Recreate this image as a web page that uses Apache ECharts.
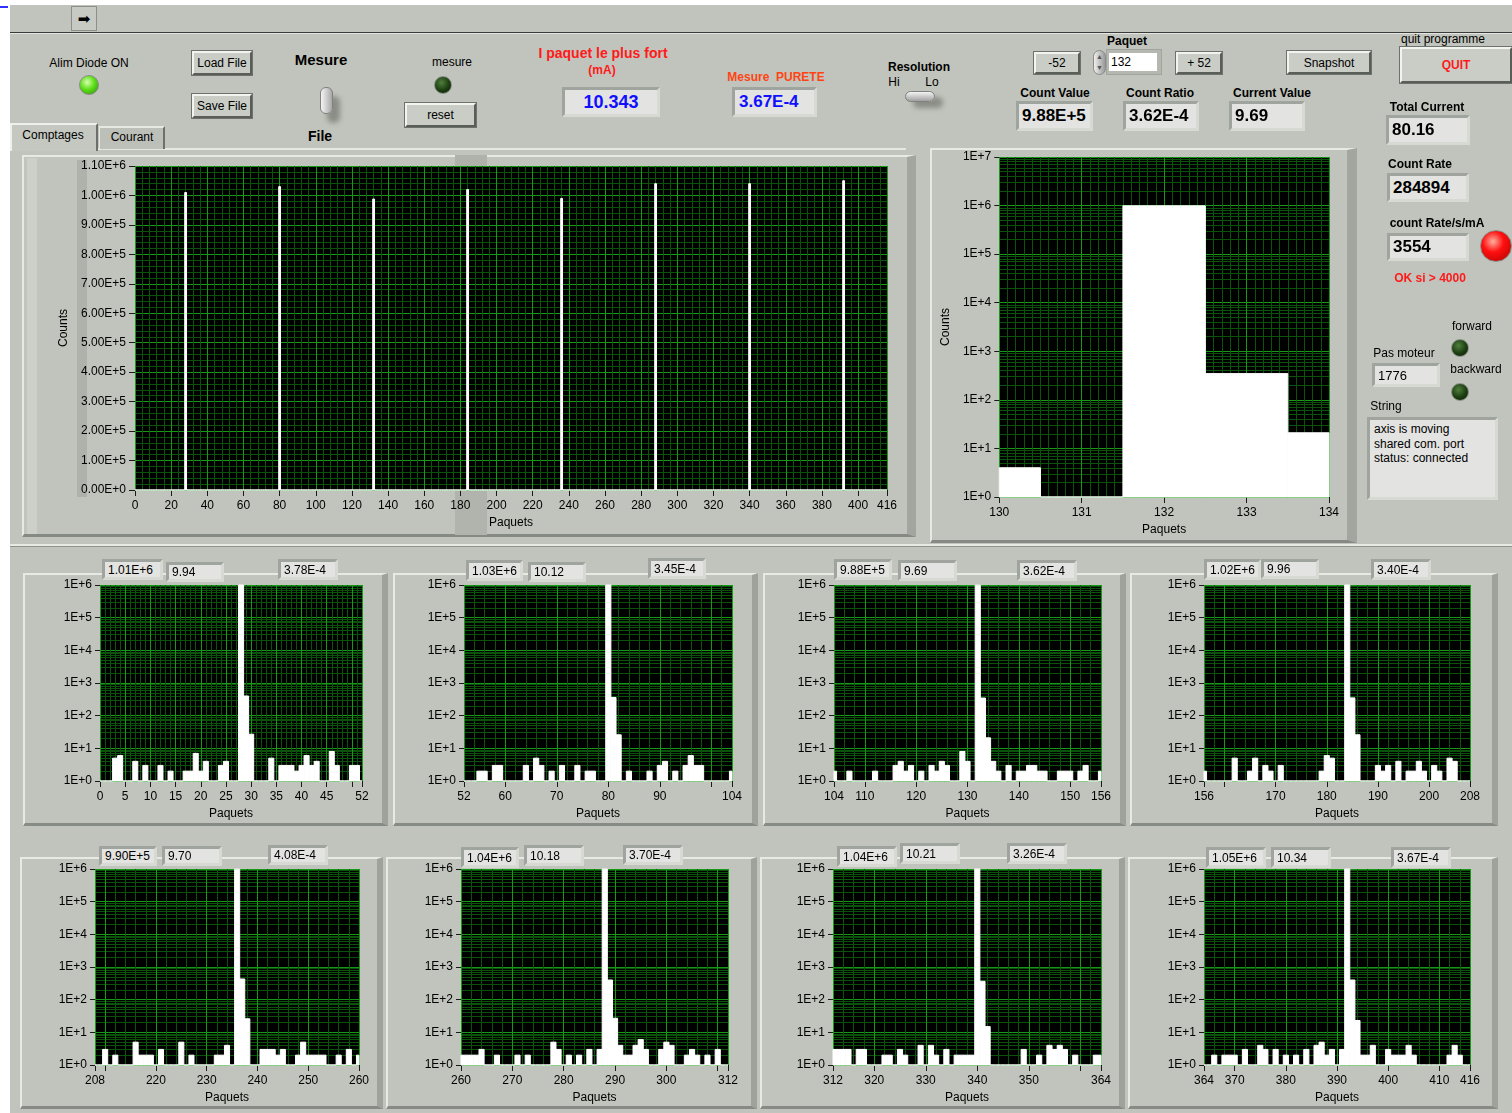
<!DOCTYPE html>
<html>
<head>
<meta charset="utf-8">
<title>Comptages</title>
<script src="https://cdn.jsdelivr.net/npm/echarts@6/dist/echarts.min.js"></script>
<style>
 html{background:#ffffff;}
 html,body{margin:0;padding:0;width:1512px;height:1113px;overflow:hidden;font-family:"Liberation Sans",Arial,sans-serif;}
 .abs{position:absolute;box-sizing:border-box;z-index:0;}
 .t{position:absolute;white-space:nowrap;font-size:12px;color:#000;text-align:center;width:300px;z-index:3;}
 .btn{position:absolute;box-sizing:border-box;background:#c9cdc6;border:2px solid;border-color:#f2f4f0 #5a5e58 #5a5e58 #f2f4f0;outline:1px solid #6e726c;font-size:12px;display:flex;align-items:center;justify-content:center;z-index:3;}
 .box{position:absolute;box-sizing:border-box;background:#e3e3e1;border:3px solid;border-color:#a0a49e #d6dad2 #d6dad2 #a0a49e;font-size:12px;display:flex;align-items:center;padding-left:3px;white-space:nowrap;z-index:3;}
 .frame{position:absolute;box-sizing:border-box;border-style:solid;border-width:2px 6px 3px 2px;border-color:#e6eae2 #9ea29b #878b85 #e6eae2;z-index:0;}
 .led{position:absolute;border-radius:50%;box-sizing:border-box;border:1px solid #8a8e88;z-index:3;}
 .ec{position:absolute;z-index:1;}
</style>
</head>
<body>
<script>
// ---------------- DATA ----------------
const segmentStarts = [0, 52, 104, 156, 208, 260, 312, 364];
const countsA = [1,1,1,5,6,1,1,4,1,3, 1,1,3,1,2,1,1,2,2,7, 2,4,1,1,3,4,1,1,1010000,400, 27,1,1,1,5,1,3,3,3,2, 3,6,3,4,1,1,8,3,1,1, 3,3,1];
const countsB = [1,1,1,2,2,1,3,3,1,1, 1,1,3,1,5,3,1,2,1,3, 1,1,3,1,2,2,1,1,1030000,360, 26,1,2,1,1,1,2,1,3,4, 1,2,1,3,6,3,3,1,1,1, 1,1,2];
const countsC = [2,1,1,2,1,1,1,1,2,1, 1,1,3,4,2,3,1,2,1,3, 2,4,3,1,1,8,4,1,988000,347, 21,4,2,1,3,1,2,2,3,3, 2,2,1,1,2,2,2,1,2,3, 1,1,2];
const countsD = [2,1,1,1,1,1,5,1,1,2, 5,1,3,2,1,3,1,1,1,1, 1,1,1,2,6,5,1,1,1020000,350, 26,1,1,1,3,2,3,1,4,1, 2,2,4,2,1,3,2,1,5,4, 1,1,1];
const countsE = [1,1,3,1,2,1,1,1,5,2, 2,2,1,3,1,1,1,5,1,2, 1,1,1,1,2,2,4,1,990000,430, 26,1,1,3,3,3,2,3,1,1, 2,5,2,2,2,2,1,1,2,1, 3,1,2];
const countsF = [2,2,2,2,3,1,1,2,1,1, 1,2,1,2,1,1,1,1,5,3, 1,2,1,2,1,3,1,3,1040000,400, 27,4,2,2,4,6,3,1,1,3, 5,4,1,1,2,3,2,1,2,1, 3,1,1];
const countsG = [3,3,3,3,1,3,3,1,1,1, 2,2,1,3,2,1,1,4,1,4, 2,1,3,1,2,2,2,2,1040000,365, 15,1,1,1,1,1,1,3,1,1, 2,1,4,3,4,3,1,2,1,1, 1,2,2];
const countsH = [1,1,2,1,2,2,2,1,3,1, 1,4,3,1,3,1,2,1,2,1, 3,1,4,5,2,3,1,3,1050000,400, 23,2,2,4,1,1,3,2,2,2, 4,2,1,1,1,1,1,1,2,4, 2,1,1];
const segments = [countsA, countsB, countsC, countsD, countsE, countsF, countsG, countsH];

const peakCountLabels = ['1.01E+6','1.03E+6','9.88E+5','1.02E+6','9.90E+5','1.04E+6','1.04E+6','1.05E+6'];
const peakCurrentLabels = ['9.94','10.12','9.69','9.96','9.70','10.18','10.21','10.34'];
const ratioLabels = ['3.78E-4','3.45E-4','3.62E-4','3.40E-4','4.08E-4','3.70E-4','3.26E-4','3.67E-4'];

const smallXLabels = [
  [0,5,10,15,20,25,30,35,40,45,52],
  [52,60,70,80,90,104],
  [104,110,120,130,140,150,156],
  [156,170,180,190,200,208],
  [208,220,230,240,250,260],
  [260,270,280,290,300,312],
  [312,320,330,340,350,364],
  [364,370,380,390,400,410,416]];
const smallXTicks = [
  [0,5,10,15,20,25,30,35,40,45,50,52],
  [52,60,70,80,90,100,104],
  [104,110,120,130,140,150,156],
  [156,160,170,180,190,200,208],
  [208,210,220,230,240,250,260],
  [260,270,280,290,300,310,312],
  [312,320,330,340,350,360,364],
  [364,370,380,390,400,410,416]];
const smallMinorStep = [1,2,2,2,2,2,2,2];

const mainXTicks = [0,20,40,60,80,100,120,140,160,180,200,220,240,260,280,300,320,340,360,380,400,416];
const mainYTicks = [0,100000,200000,300000,400000,500000,600000,700000,800000,900000,1000000,1100000];
const zoomXTicks = [130,131,132,133,134];
const zoomRange = [130, 134];

// ---------------- STYLE / LAYOUT ----------------
const FONT = '"Liberation Sans", Arial, sans-serif';
const MAJOR = '#169a16', MINOR = '#0b520b';
const smallPlots = [
 {l:100,r:362,t:585,b:781},{l:464,r:732,t:585,b:781},{l:834,r:1101,t:585,b:781},{l:1204,r:1470,t:585,b:781},
 {l:95,r:359,t:869,b:1065},{l:461,r:728,t:869,b:1065},{l:833,r:1101,t:869,b:1065},{l:1204,r:1470,t:869,b:1065}];
const smallFrames = [[23,573,365,253],[393,573,365,253],[763,573,363,253],[1130,573,368,253],
 [20,857,363,252],[386,857,371,252],[760,857,365,252],[1128,857,370,252]];
const headerBoxes = [
 [[102,559,61,21],[166,562,58,20],[278,559,60,21]],
 [[466,560,57,21],[528,562,58,20],[648,558,58,21]],
 [[834,559,58,21],[898,560,59,21],[1017,560,60,21]],
 [[1204,559,57,21],[1261,559,58,20],[1371,559,60,21]],
 [[99,846,58,20],[162,846,60,20],[268,845,60,20]],
 [[461,847,58,21],[524,845,60,21],[623,845,60,20]],
 [[837,846,60,21],[900,843,60,21],[1007,843,60,21]],
 [[1206,847,60,21],[1271,847,60,21],[1391,847,60,21]]];

// ---------------- HTML UI ----------------
function el(cls, css, html){ const d=document.createElement('div'); d.className=cls; d.style.cssText=css; if(html!==undefined) d.innerHTML=html; document.body.appendChild(d); return d; }
function txt(cx,cy,s,css,fs){ fs=fs||12; const lh=fs+2; return el('t','left:'+(cx-150)+'px;top:'+(cy-lh/2)+'px;font-size:'+fs+'px;line-height:'+lh+'px;'+(css||''),s); }
function btn(l,t,w,h,s,css){ return el('btn','left:'+l+'px;top:'+t+'px;width:'+w+'px;height:'+h+'px;'+(css||''),s); }
function box(l,t,w,h,s,css){ return el('box','left:'+l+'px;top:'+t+'px;width:'+w+'px;height:'+h+'px;'+(css||''),s); }
function rect(l,t,w,h,css){ return el('abs','left:'+l+'px;top:'+t+'px;width:'+w+'px;height:'+h+'px;'+(css||'')); }
function led(cx,cy,r,grad){ return el('led','left:'+(cx-r)+'px;top:'+(cy-r)+'px;width:'+(2*r)+'px;height:'+(2*r)+'px;background:'+grad+';'); }

rect(10,5,1502,1108,'background:#c0c4bc;');
rect(0,6,8,2,'background:#3030ff;');
rect(10,32,1502,1,'background:#3a3a3a;');
rect(10,33,1502,1,'background:#e2e6de;');
rect(71,6,26,25,'border:1px solid #8c908a;background:#c6cac3;z-index:3;display:flex;align-items:center;justify-content:center;font-family:"DejaVu Sans";font-size:15px;color:#000;').innerHTML='&#10145;';

rect(10,123,88,28,'background:#c4c8c0;border-top:2px solid #eef0ec;border-left:2px solid #eef0ec;border-right:2px solid #6c706a;z-index:2;');
rect(99,126,66,23,'background:#bcc0b8;border-top:2px solid #e6e8e2;border-left:1px solid #e6e8e2;border-right:2px solid #6c706a;z-index:2;');
txt(53,135,'Comptages'); txt(132,137,'Courant');
rect(98,148,808,2,'background:#e4e8e0;');
rect(22,155,894,382,'border-style:solid;border-width:2px 9px 3px 2px;border-color:#e6eae2 #a2a69f #868a84 #e6eae2;');
rect(27,158,10,376,'background:#ccd0c8;');
rect(77,160,10,337,'background:#aeb2aa;');
rect(455,155,32,11,'background:#aeb2aa;');
rect(455,491,32,44,'background:#b0b4ac;');
rect(930,148,427,395,'border-style:solid;border-width:2px 10px 3px 2px;border-color:#e6eae2 #a2a69f #868a84 #e6eae2;');
rect(10,544,1502,2,'background:#e6eae2;');
rect(10,546,1502,1,'background:#8e928c;');
smallFrames.forEach(f=>el('frame','left:'+f[0]+'px;top:'+f[1]+'px;width:'+f[2]+'px;height:'+f[3]+'px;'));

txt(89,63,'Alim Diode ON');
led(89,85,10,'radial-gradient(circle at 40% 35%, #d8ffb0 0%, #5ee018 45%, #2c8a08 100%)');
btn(192,51,60,24,'Load File'); btn(192,94,60,24,'Save File');
txt(321,59,'Mesure','font-weight:bold;',15);
rect(320,87,13,27,'border-radius:6px;background:linear-gradient(90deg,#f4f4f4,#a8a8a8);border:1px solid #808080;box-shadow:7px 9px 5px #8a8e86;z-index:3;');
txt(320,136,'File','font-weight:bold;',14);
txt(452,62,'mesure');
led(443,85,9,'radial-gradient(circle at 40% 35%, #4f7f3c 0%, #1c3d10 55%, #0a1e06 100%)');
btn(405,103,71,24,'reset');
txt(603,53,'I paquet le plus fort','font-weight:bold;color:#ff1a1a;',14);
txt(602,70,'(mA)','font-weight:bold;color:#ff1a1a;');
box(562,87,98,30,'10.343','justify-content:center;padding-left:0;color:#1010ff;font-weight:bold;font-size:18px;');
txt(776,77,'Mesure&nbsp;&nbsp;PURETE','font-weight:bold;color:#ff4414;');
box(732,87,85,30,'3.67E-4','color:#1010ff;font-weight:bold;font-size:17px;padding-left:4px;');
txt(919,67,'Resolution','font-weight:bold;');
txt(894,82,'Hi'); txt(932,82,'Lo');
rect(905,91,30,11,'border-radius:6px;background:linear-gradient(180deg,#f4f4f4,#a0a0a0);border:1px solid #808080;box-shadow:8px 6px 5px #8a8e86;z-index:3;');

txt(1127,41,'Paquet','font-weight:bold;');
btn(1034,52,46,22,'-52'); btn(1176,52,46,22,'+ 52');
rect(1093,50,13,25,'border-radius:7px;background:linear-gradient(90deg,#eeeeee,#9a9a9a);border:1px solid #8a8a8a;z-index:3;font-size:7px;line-height:11px;text-align:center;color:#555;').innerHTML='&#9650;<br>&#9660;';
rect(1106,49,56,26,'background:#b4b8b0;border:1px solid #a0a49e;z-index:3;');
rect(1109,53,48,18,'background:#ffffff;z-index:4;font-size:12px;line-height:18px;padding-left:2px;').innerHTML='132';
btn(1287,51,84,23,'Snapshot');
txt(1443,39,'quit programme');
btn(1400,47,112,36,'QUIT','color:#ff1a1a;font-weight:bold;');
txt(1055,93,'Count Value','font-weight:bold;');
txt(1160,93,'Count Ratio','font-weight:bold;');
txt(1272,93,'Current Value','font-weight:bold;');
box(1016,101,77,30,'9.88E+5','font-weight:bold;font-size:17px;');
box(1123,101,76,30,'3.62E-4','font-weight:bold;font-size:17px;');
box(1229,101,76,30,'9.69','font-weight:bold;font-size:17px;');
txt(1427,107,'Total Current','font-weight:bold;');
box(1386,115,84,30,'80.16','font-weight:bold;font-size:17px;');
txt(1420,164,'Count Rate','font-weight:bold;');
box(1387,173,82,29,'284894','font-weight:bold;font-size:17px;');
txt(1437,223,'count Rate/s/mA','font-weight:bold;');
box(1387,233,82,28,'3554','font-weight:bold;font-size:17px;');
led(1496,246,16,'radial-gradient(circle at 40% 35%, #ffb0a0 0%, #ff1010 40%, #b00000 100%)');
txt(1430,278,'OK si &gt; 4000','font-weight:bold;color:#ff1a1a;');
txt(1472,326,'forward');
led(1460,348,9,'radial-gradient(circle at 40% 35%, #4f7f3c 0%, #1c3d10 55%, #0a1e06 100%)');
txt(1404,353,'Pas moteur');
box(1372,363,68,24,'1776','font-size:13px;');
txt(1476,369,'backward');
led(1460,392,9,'radial-gradient(circle at 40% 35%, #4f7f3c 0%, #1c3d10 55%, #0a1e06 100%)');
txt(1386,406,'String');
box(1367,417,131,83,'axis is moving<br>shared com. port<br>status: connected','align-items:flex-start;line-height:14.5px;padding-top:2px;padding-left:4px;');

headerBoxes.forEach((bx,i)=>{
  const labs=[peakCountLabels[i], peakCurrentLabels[i], ratioLabels[i]];
  bx.forEach((b,j)=>box(b[0],b[1],b[2],b[3],labs[j]));
});

// ---------------- ECHARTS (one instance per graph) ----------------
const tickStyle={color:'#1a1a1a', width:1};
const labelStyle={color:'#000', fontSize:12, fontFamily:FONT};

function stepValues(min,max,step){ const out=[]; for(let v=min; v<=max+1e-9; v=Math.round((v+step)*1000)/1000) out.push(v); return out; }
function xAxesFor(min,max,labels,ticks,minorStep,nameGap){
  return [
    {type:'value',min:min,max:max,position:'top',axisLine:{show:false},axisTick:{show:false,customValues:stepValues(min,max,minorStep)},axisLabel:{show:false},splitLine:{show:true,lineStyle:{color:MINOR,width:1}}},
    {type:'value',min:min,max:max,position:'bottom',axisLine:{show:false,onZero:false},
     axisTick:{show:true,length:6,customValues:ticks,lineStyle:tickStyle},
     axisLabel:Object.assign({customValues:labels,margin:10},labelStyle),
     splitLine:{show:true,lineStyle:{color:MAJOR,width:1}},
     name:'Paquets',nameLocation:'middle',nameGap:nameGap,nameTextStyle:labelStyle}];
}
function logYAxesFor(maxExp,name,nameGap){
  const decades=[], minors=[];
  for(let e=0;e<=maxExp;e++) decades.push(Math.pow(10,e));
  for(let e=0;e<maxExp;e++) for(let k=2;k<=9;k++) minors.push(k*Math.pow(10,e));
  const major={type:'log',min:1,max:Math.pow(10,maxExp),position:'left',axisLine:{show:false},
    axisTick:{show:true,length:5,customValues:decades,lineStyle:tickStyle},
    axisLabel:Object.assign({customValues:decades,margin:8,formatter:v=>'1E+'+Math.round(Math.log10(v))},labelStyle),
    splitLine:{show:true,lineStyle:{color:MAJOR,width:1}}};
  if(name){ major.name=name; major.nameLocation='middle'; major.nameGap=nameGap; major.nameTextStyle=labelStyle; }
  return [
    {type:'log',min:1,max:Math.pow(10,maxExp),position:'right',axisLine:{show:false},axisTick:{show:false,customValues:minors},axisLabel:{show:false},splitLine:{show:true,lineStyle:{color:MINOR,width:1}}},
    major];
}
// histogram bins: each count is a white cell one packet wide, from the axis floor up to its value
function binSeries(data,xMin,xMax,yFloor,yCeil){
  return {type:'custom',xAxisIndex:1,yAxisIndex:1,data:data,dimensions:['x','y'],encode:{x:0,y:1},z:3,
    renderItem:function(params,api){
      const x=api.value(0), v=Math.min(api.value(1),yCeil);
      const a=api.coord([Math.max(x-0.5,xMin), v]);
      const b=api.coord([Math.min(x+0.5,xMax), yFloor]);
      return {type:'rect',shape:{x:a[0],y:a[1],width:b[0]-a[0],height:b[1]-a[1]},
        style:{fill:'#ffffff',stroke:'#ffffff',lineWidth:1}};
    }};
}
function mount(plot,pad,xAxis,yAxis,ser){
  const L=plot.l-pad.l, T=plot.t-pad.t, W=(plot.r-plot.l)+pad.l+pad.r, H=(plot.b-plot.t)+pad.t+pad.b;
  const d=el('ec','left:'+L+'px;top:'+T+'px;width:'+W+'px;height:'+H+'px;');
  const c=echarts.init(d,null,{renderer:'canvas',width:W,height:H});
  c.setOption({animation:false,textStyle:{fontFamily:FONT},
    grid:{left:pad.l,top:pad.t,width:plot.r-plot.l,height:plot.b-plot.t,show:true,backgroundColor:'#000',borderWidth:0},
    xAxis:xAxis,yAxis:yAxis,series:[ser]});
}

const allPoints=[];
segments.forEach((seg,i)=>seg.forEach((v,j)=>{ if(i>0 && j===0) return; allPoints.push([segmentStarts[i]+j, v]); }));

// main linear chart
{
  const xs=[
    {type:'value',min:0,max:416,position:'top',axisLine:{show:false},axisTick:{show:false,customValues:stepValues(0,416,4)},axisLabel:{show:false},splitLine:{show:true,lineStyle:{color:MINOR}}},
    {type:'value',min:0,max:416,position:'bottom',axisLine:{show:false,onZero:false},
     axisTick:{show:true,length:6,customValues:mainXTicks,lineStyle:tickStyle},
     axisLabel:Object.assign({customValues:mainXTicks,margin:10},labelStyle),
     splitLine:{show:true,lineStyle:{color:MAJOR}},
     name:'Paquets',nameLocation:'middle',nameGap:27,nameTextStyle:labelStyle}];
  const ys=[
    {type:'value',min:0,max:1100000,position:'right',axisLine:{show:false},axisTick:{show:false,customValues:stepValues(0,1100000,20000)},axisLabel:{show:false},splitLine:{show:true,lineStyle:{color:MINOR}}},
    {type:'value',min:0,max:1100000,position:'left',axisLine:{show:false},
     axisTick:{show:true,length:6,customValues:mainYTicks,lineStyle:tickStyle},
     axisLabel:Object.assign({customValues:mainYTicks,margin:9,formatter:v=>Number(v).toExponential(2).replace('e','E')},labelStyle),
     splitLine:{show:true,lineStyle:{color:MAJOR}},
     name:'Counts',nameLocation:'middle',nameGap:64,nameTextStyle:labelStyle}];
  mount({l:135,r:887,t:166,b:490},{l:95,r:22,t:12,b:48},xs,ys,binSeries(allPoints,0,416,0,1100000));
}
// zoom chart around packet 132
{
  mount({l:998,r:1329,t:157,b:497},{l:66,r:14,t:8,b:44},
    xAxesFor(zoomRange[0],zoomRange[1],zoomXTicks,zoomXTicks,0.1,27),
    logYAxesFor(7,'Counts',46),
    binSeries(allPoints.filter(p=>p[0]>=zoomRange[0]&&p[0]<=zoomRange[1]),zoomRange[0],zoomRange[1],1,1e7));
}
// eight small log charts
segments.forEach((seg,i)=>{
  const s=segmentStarts[i];
  mount(smallPlots[i],{l:58,r:16,t:8,b:44},
    xAxesFor(s,s+52,smallXLabels[i],smallXTicks[i],smallMinorStep[i],26),
    logYAxesFor(6,null,0),
    binSeries(seg.map((v,j)=>[s+j,v]),s,s+52,1,1e6));
});
</script>
</body>
</html>
